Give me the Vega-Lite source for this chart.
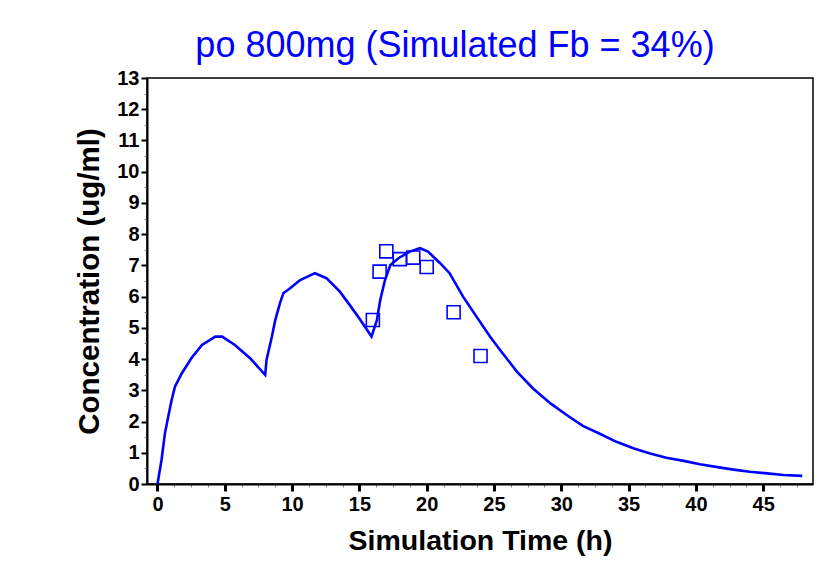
{
  "$schema": "https://vega.github.io/schema/vega-lite/v6.json",
  "width": 666,
  "height": 406,
  "autosize": {"type": "none"},
  "padding": {"left": 147, "top": 78, "right": 25, "bottom": 86},
  "background": "white",
  "config": {
    "font": "Liberation Sans",
    "view": {"stroke": "black", "strokeWidth": 1.5}
  },
  "title": {
    "text": "po 800mg (Simulated Fb = 34%)",
    "font": "Liberation Sans",
    "fontSize": 36,
    "fontWeight": "normal",
    "color": "#0000ff",
    "anchor": "middle",
    "dx": -25,
    "offset": 3
  },
  "datasets": {
    "sim": [
      {"t": 0, "c": 0}, {"t": 0.3, "c": 0.77}, {"t": 0.55, "c": 1.62}, {"t": 0.8, "c": 2.16},
      {"t": 1.05, "c": 2.69}, {"t": 1.3, "c": 3.12}, {"t": 1.8, "c": 3.54}, {"t": 2.5, "c": 4.02},
      {"t": 3.3, "c": 4.45}, {"t": 4.3, "c": 4.72}, {"t": 4.8, "c": 4.72}, {"t": 5.75, "c": 4.45},
      {"t": 6.9, "c": 4.02}, {"t": 8.0, "c": 3.49}, {"t": 8.1, "c": 3.97}, {"t": 8.5, "c": 4.72},
      {"t": 8.75, "c": 5.25}, {"t": 9.1, "c": 5.79}, {"t": 9.35, "c": 6.11}, {"t": 9.85, "c": 6.27},
      {"t": 10.6, "c": 6.53}, {"t": 11.7, "c": 6.75}, {"t": 12.55, "c": 6.59}, {"t": 13.55, "c": 6.16},
      {"t": 14.3, "c": 5.72}, {"t": 15.0, "c": 5.3}, {"t": 15.9, "c": 4.72}, {"t": 16.3, "c": 5.25},
      {"t": 16.55, "c": 5.89}, {"t": 16.9, "c": 6.53}, {"t": 17.3, "c": 7.01}, {"t": 17.9, "c": 7.23},
      {"t": 18.75, "c": 7.44}, {"t": 19.5, "c": 7.55}, {"t": 20.1, "c": 7.44}, {"t": 21.0, "c": 7.07},
      {"t": 21.7, "c": 6.75}, {"t": 22.7, "c": 6.0}, {"t": 23.7, "c": 5.36}, {"t": 24.7, "c": 4.72},
      {"t": 25.45, "c": 4.29}, {"t": 26.7, "c": 3.6}, {"t": 27.9, "c": 3.06}, {"t": 29.2, "c": 2.58},
      {"t": 30.4, "c": 2.21}, {"t": 31.6, "c": 1.86}, {"t": 32.9, "c": 1.6}, {"t": 34.1, "c": 1.35},
      {"t": 35.4, "c": 1.14}, {"t": 36.6, "c": 0.98}, {"t": 37.8, "c": 0.84}, {"t": 39.1, "c": 0.74},
      {"t": 40.3, "c": 0.63}, {"t": 41.6, "c": 0.54}, {"t": 42.8, "c": 0.46}, {"t": 44.0, "c": 0.39},
      {"t": 45.3, "c": 0.34}, {"t": 46.5, "c": 0.29}, {"t": 47.9, "c": 0.26}
    ],
    "obs": [
      {"t": 16, "c": 5.25}, {"t": 16.5, "c": 6.8}, {"t": 17, "c": 7.45}, {"t": 18, "c": 7.2},
      {"t": 19, "c": 7.25}, {"t": 20, "c": 6.95}, {"t": 22, "c": 5.5}, {"t": 24, "c": 4.1}
    ]
  },
  "encoding": {
    "x": {
      "field": "t",
      "type": "quantitative",
      "scale": {"domain": [-0.78, 48.7], "nice": false, "zero": false},
      "axis": {
        "title": "Simulation Time (h)",
        "titleFont": "Liberation Sans",
        "titleFontSize": 28.5,
        "titleFontWeight": "bold",
        "titleColor": "black",
        "titlePadding": 12,
        "values": [0,1.25,2.5,3.75,5,6.25,7.5,8.75,10,11.25,12.5,13.75,15,16.25,17.5,18.75,20,21.25,22.5,23.75,25,26.25,27.5,28.75,30,31.25,32.5,33.75,35,36.25,37.5,38.75,40,41.25,42.5,43.75,45,46.25,47.5],
        "labelExpr": "datum.value % 5 === 0 ? format(datum.value, 'd') : ''",
        "labelFontSize": 20,
        "labelFontWeight": "bold",
        "labelColor": "black",
        "labelOverlap": false,
        "labelFlush": false,
        "labelPadding": 3,
        "grid": false,
        "domainColor": "black",
        "domainWidth": 2,
        "tickColor": {"condition": {"test": "datum.value % 5 === 0", "value": "black"}, "value": "#888888"},
        "tickWidth": {"condition": {"test": "datum.value % 5 === 0", "value": 3}, "value": 1},
        "tickSize": {"condition": {"test": "datum.value % 5 === 0", "value": 7}, "value": 3}
      }
    },
    "y": {
      "field": "c",
      "type": "quantitative",
      "scale": {"domain": [0, 13], "nice": false, "zero": true},
      "axis": {
        "title": "Concentration (ug/ml)",
        "titleFont": "Liberation Sans",
        "titleFontSize": 29.5,
        "titleFontWeight": "bold",
        "titleColor": "black",
        "titlePadding": 12,
        "values": [0,0.5,1,1.5,2,2.5,3,3.5,4,4.5,5,5.5,6,6.5,7,7.5,8,8.5,9,9.5,10,10.5,11,11.5,12,12.5,13],
        "labelExpr": "datum.value % 1 === 0 ? format(datum.value, 'd') : ''",
        "labelFontSize": 20,
        "labelFontWeight": "bold",
        "labelColor": "black",
        "labelOverlap": false,
        "labelFlush": false,
        "labelPadding": 2,
        "grid": false,
        "domainColor": "black",
        "domainWidth": 2,
        "tickColor": {"condition": {"test": "datum.value % 1 === 0", "value": "black"}, "value": "#888888"},
        "tickWidth": {"condition": {"test": "datum.value % 1 === 0", "value": 2}, "value": 1},
        "tickSize": {"condition": {"test": "datum.value % 1 === 0", "value": 6}, "value": 3}
      }
    }
  },
  "layer": [
    {
      "data": {"name": "sim"},
      "mark": {"type": "line", "color": "#0000ff", "strokeWidth": 2.6, "clip": true}
    },
    {
      "data": {"name": "obs"},
      "mark": {"type": "point", "shape": "square", "filled": false, "size": 170, "color": "#0000ff", "strokeWidth": 1.6, "opacity": 1}
    }
  ]
}
